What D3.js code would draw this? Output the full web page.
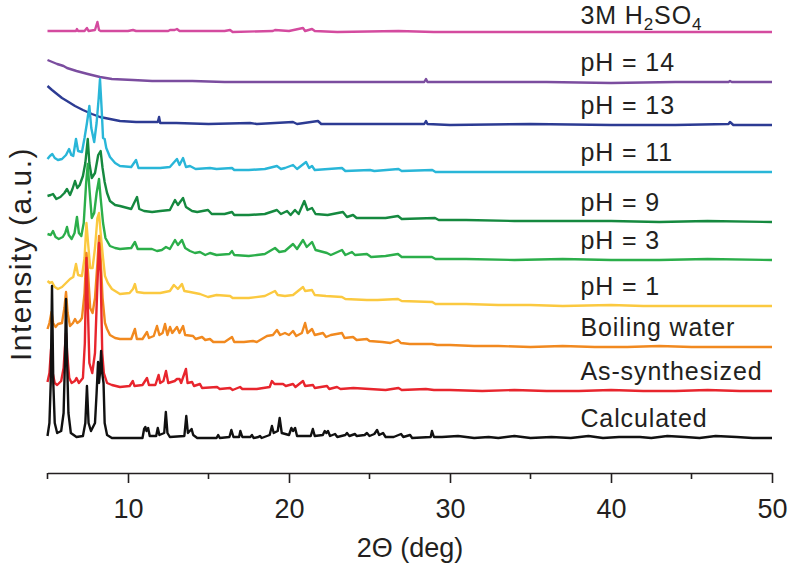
<!DOCTYPE html>
<html><head><meta charset="utf-8">
<script src="https://cdn.jsdelivr.net/npm/d3@7"></script>
<style>
html,body{margin:0;padding:0;background:#fff;}
svg{display:block;}
text{font-family:"Liberation Sans",Arial,Helvetica,sans-serif;fill:#231f20;}
</style></head>
<body><svg id="chart" width="788" height="569"></svg>
<script>
// ---- Data: [2θ (deg), intensity (a.u., stacked)] ----
const h2so4 = [[5.0,442],[6.5,442],[6.77,442],[6.83,444],[6.9,442],[7.3,442],[7.45,445],[7.55,442],[7.95,443],[8.1,451],[8.2,443],[8.3,442],[10.0,442],[10.31,443],[10.5,442],[12.5,442],[12.61,443],[12.9,443],[13.04,444],[13.2,442],[16.0,442],[16.34,443],[16.5,441],[19.0,442],[19.13,443],[20.0,442],[20.87,445],[21.0,442],[21.43,444],[21.6,442],[23,441],[26.8,442],[29,441],[33,441],[38,441],[43,441],[47,441],[50,441]];
const ph14 = [[5.0,413],[5.3,411],[5.6,409],[6.0,407],[6.21,405],[6.8,402],[7.5,399],[8.26,396],[9.0,394],[10.31,393],[11.5,392],[12.4,392],[14,392],[16,391],[20,391],[24,391],[28.4,391],[28.51,394],[28.6,391],[32,391],[36,391],[40,390],[44,391],[47.3,391],[47.39,392],[47.5,391],[50,391]];
const ph13 = [[5.0,387],[5.28,383],[5.59,379],[5.9,375],[6.21,372],[6.71,367],[7.2,363],[7.76,359],[8.26,356],[8.88,354],[9.5,352],[10.5,351],[11.5,351],[11.85,351],[11.93,356],[12.0,350],[13,350],[15,349],[17.58,350],[18,349],[20.25,351],[20.5,349],[21.8,352],[22,349],[25,349],[28.4,349],[28.51,352],[28.6,349],[30,348],[35,349],[40,348],[44,348],[47.3,349],[47.39,351],[47.6,348],[50,348]];
const ph11 = [[5.0,314],[5.15,317],[5.3,319],[5.45,315],[5.65,313],[5.9,314],[6.15,318],[6.34,324],[6.48,318],[6.6,317],[6.77,334],[6.9,322],[7.14,321],[7.3,335],[7.45,350],[7.6,367],[7.72,345],[7.9,331],[8.05,350],[8.18,375],[8.26,394],[8.36,365],[8.45,335],[8.55,334],[8.65,325],[8.88,316],[9.2,310],[9.5,307],[10.2,306],[10.5,313],[10.65,305],[11.2,305],[12.0,305],[12.6,306],[13.04,314],[13.2,308],[13.42,315],[13.6,306],[13.85,307],[14.2,304],[15.09,305],[15.5,304],[16.46,305],[16.6,303],[17.5,303],[18.5,304],[19.25,307],[19.5,304],[19.75,305],[20.25,308],[20.5,304],[21.06,311],[21.25,305],[21.43,307],[21.6,303],[23.29,305],[23.5,302],[25.03,303],[25.3,302],[26.8,304],[27.0,302],[28.9,303],[29.1,301],[32,301],[35,301],[38,301],[41,301],[44,301],[47,301],[50,301]];
const ph9 = [[5.0,277],[5.2,278],[5.34,279],[5.55,274],[5.8,276],[6.05,280],[6.21,284],[6.4,278],[6.55,284],[6.71,292],[6.85,285],[7.0,288],[7.2,297],[7.35,310],[7.5,334],[7.6,310],[7.75,295],[7.95,300],[8.15,318],[8.3,322],[8.42,305],[8.55,291],[8.7,280],[8.88,272],[9.2,268],[9.5,267],[10.2,264],[10.56,276],[10.7,264],[11.0,262],[11.5,261],[12.0,262],[12.6,263],[12.92,273],[13.1,268],[13.42,275],[13.6,266],[13.98,262],[14.3,261],[14.97,263],[15.2,259],[16.0,259],[16.46,261],[16.6,258],[17.5,258],[18.5,259],[19.25,263],[19.5,259],[19.88,262],[20.1,258],[20.37,263],[20.6,259],[20.95,272],[21.15,263],[21.43,265],[21.65,259],[22.4,258],[23.35,261],[23.6,256],[23.98,258],[24.2,255],[25.0,255],[26.0,255],[26.77,257],[27.0,254],[29.07,255],[29.3,253],[31,253],[34,252],[37,252],[40,252],[43,251],[46,252],[50,251]];
const ph3 = [[5.0,239],[5.2,238],[5.34,242],[5.5,236],[5.7,234],[5.95,236],[6.1,240],[6.21,246],[6.32,238],[6.5,234],[6.68,240],[6.83,256],[6.95,240],[7.1,237],[7.25,250],[7.4,290],[7.5,309],[7.6,285],[7.75,255],[7.9,260],[8.05,280],[8.2,294],[8.3,275],[8.45,250],[8.6,235],[8.88,227],[9.2,225],[9.5,224],[10.2,225],[10.43,231],[10.6,224],[11.2,224],[11.49,224],[11.8,222],[12.1,223],[12.36,226],[12.6,224],[12.92,233],[13.1,228],[13.35,233],[13.55,225],[13.85,222],[14.16,220],[14.47,221],[14.8,218],[15.09,220],[15.5,218],[16.3,219],[16.46,222],[16.6,218],[17.5,217],[18.01,218],[18.5,219],[19.13,225],[19.4,221],[19.75,222],[20.25,229],[20.5,224],[20.87,233],[21.1,226],[21.43,231],[21.65,223],[22.36,220],[22.6,218],[23.29,223],[23.5,218],[23.91,221],[24.1,218],[24.84,219],[25.1,216],[26.0,217],[26.77,219],[27.0,216],[28.88,216],[29.1,214],[31,214],[34,213],[37,214],[40,213],[43,213],[46,214],[50,213]];
const ph1 = [[5.0,192],[5.15,190],[5.28,191],[5.45,186],[5.65,184],[5.9,186],[6.15,190],[6.4,194],[6.6,196],[6.77,209],[6.9,198],[7.14,197],[7.3,215],[7.42,250],[7.52,230],[7.65,205],[7.8,205],[7.95,225],[8.1,255],[8.2,260],[8.3,240],[8.45,215],[8.57,197],[8.75,190],[9.0,184],[9.5,179],[10.1,180],[10.31,184],[10.43,189],[10.55,181],[11.0,180],[11.5,180],[12.0,180],[12.6,182],[12.85,188],[13.1,184],[13.35,189],[13.5,182],[13.85,181],[14.47,179],[14.97,176],[15.5,178],[16.34,177],[16.5,175],[17.5,175],[18.5,177],[19.13,182],[19.3,178],[19.75,177],[20.25,178],[20.87,186],[21.0,182],[21.43,183],[21.6,178],[22.3,177],[23.29,176],[23.5,174],[24.84,173],[25.5,173],[26.77,174],[27.0,172],[28.9,171],[29.1,169],[31,169],[33,168],[35,168],[37,167],[40,168],[42,167],[45,167],[48,167],[50,167]];
const boiling = [[5.0,144],[5.12,150],[5.25,161],[5.35,150],[5.5,146],[5.65,149],[5.9,150],[6.05,165],[6.15,181],[6.25,160],[6.4,147],[6.58,150],[6.71,154],[6.85,150],[7.02,152],[7.14,155],[7.3,180],[7.42,220],[7.52,200],[7.65,165],[7.8,160],[7.95,175],[8.1,210],[8.2,237],[8.3,215],[8.42,175],[8.57,150],[8.7,144],[8.88,138],[9.2,135],[9.5,134],[10.2,134],[10.43,144],[10.55,134],[10.9,134],[11.18,141],[11.3,135],[11.6,137],[11.8,147],[11.95,138],[12.15,140],[12.3,149],[12.45,138],[12.61,146],[12.75,140],[13.04,146],[13.2,140],[13.42,147],[13.55,138],[14.04,137],[14.2,134],[14.6,136],[14.8,133],[15.09,134],[15.3,131],[16.0,131],[16.46,136],[16.6,131],[17.2,131],[17.76,132],[18.0,131],[18.63,137],[19.0,138],[19.25,143],[19.45,138],[19.75,140],[20.0,138],[20.25,142],[20.45,137],[20.8,140],[21.0,150],[21.15,140],[21.43,144],[21.6,138],[22.11,140],[22.3,136],[22.6,138],[23.29,140],[23.45,135],[23.98,136],[24.2,133],[24.84,134],[25.0,132],[25.8,131],[26.3,130],[26.77,133],[26.95,130],[27.5,129],[28.88,129],[29.2,128],[30.0,128],[31.5,127],[33,127],[35,126],[37,127],[39,126],[41,126],[43,127],[45,126],[47,126],[50,126]];
const asSynthesized = [[5.0,91],[5.12,100],[5.22,124],[5.32,100],[5.45,90],[5.6,88],[5.85,92],[6.0,105],[6.08,125],[6.15,140],[6.22,120],[6.35,95],[6.5,90],[6.7,92],[6.8,95],[6.95,90],[7.2,95],[7.32,130],[7.42,215],[7.5,170],[7.6,110],[7.78,100],[7.95,120],[8.08,180],[8.2,230],[8.3,200],[8.4,120],[8.5,100],[8.7,90],[9.0,88],[9.5,86],[10.1,87],[10.3,92],[10.4,87],[10.9,88],[11.18,95],[11.3,88],[11.7,88],[11.9,98],[12.0,90],[12.2,92],[12.36,102],[12.5,90],[12.9,92],[13.04,94],[13.2,94],[13.3,90],[13.6,104],[13.7,90],[13.98,91],[14.1,87],[14.47,89],[14.6,85],[15.53,86],[15.7,84],[16.34,85],[16.5,83],[16.96,86],[17.1,84],[18.0,84],[18.8,86],[18.94,92],[19.1,89],[19.63,89],[19.8,87],[20.25,89],[20.4,86],[20.87,92],[21.0,87],[21.49,88],[21.6,85],[22.36,87],[22.5,84],[22.98,86],[23.2,84],[24.0,85],[25.0,84],[26.0,83],[26.8,85],[27.0,83],[28.5,84],[29.0,83],[30.0,83],[32,82],[34,83],[36,82],[38,82],[40,83],[42,82],[44,82],[46,83],[48,82],[50,82]];
const calculated = [[5.0,37],[5.12,50],[5.2,90],[5.28,187],[5.36,90],[5.45,50],[5.6,40],[5.85,42],[6.0,60],[6.08,110],[6.15,174],[6.22,110],[6.3,60],[6.45,40],[6.8,36],[7.2,37],[7.35,50],[7.45,87],[7.55,50],[7.7,42],[7.95,50],[8.05,80],[8.14,111],[8.2,90],[8.26,100],[8.33,122],[8.4,100],[8.48,90],[8.55,50],[8.7,38],[9.0,35],[10.0,35],[10.9,35],[11.0,44],[11.08,46],[11.15,42],[11.25,45],[11.35,37],[11.75,37],[11.85,45],[11.95,38],[12.25,40],[12.35,61],[12.45,40],[12.6,36],[13.5,37],[13.62,57],[13.72,40],[13.95,44],[14.05,38],[14.3,35],[15.5,35],[15.6,38],[15.7,35],[16.3,36],[16.42,43],[16.55,36],[16.9,36],[16.98,42],[17.1,36],[17.6,36],[17.7,38],[17.8,35],[18.1,36],[18.2,37],[18.3,35],[18.8,38],[18.94,47],[19.05,40],[19.3,42],[19.42,55],[19.55,40],[20.0,38],[20.15,45],[20.25,42],[20.38,45],[20.5,37],[21.35,37],[21.48,44],[21.6,37],[22.1,38],[22.22,42],[22.32,40],[22.42,42],[22.55,37],[22.86,39],[23.0,36],[23.5,38],[23.6,40],[23.75,37],[24.1,39],[24.2,37],[24.7,38],[24.84,40],[25.0,37],[25.3,39],[25.47,43],[25.6,38],[25.84,40],[26.0,36],[26.5,36],[26.96,39],[27.1,36],[27.52,38],[27.65,35],[28.8,36],[28.88,42],[29.0,36],[29.5,36],[30.5,37],[31.5,35],[32.4,36],[33.0,35],[34.0,37],[35.0,35],[36.3,36],[37.5,35],[38.6,37],[39.5,35],[40.5,36],[41.8,36],[42.5,35],[43.5,37],[44.6,36],[45.5,35],[46.5,37],[47.8,36],[48.8,35],[50,35]];

// series labels (top to bottom) and tick values
const seriesNames = ["3M H2SO4","pH = 14","pH = 13","pH = 11","pH = 9","pH = 3","pH = 1","Boiling water","As-synthesized","Calculated"];
const seriesData = [h2so4, ph14, ph13, ph11, ph9, ph3, ph1, boiling, asSynthesized, calculated];
const seriesColors = ["#d44b9f","#7b4d9f","#2c3b93","#29b6d8","#15893f","#2bae4a","#fbc940","#f1891f","#e8252d","#111111"];
const majorTicks = [10, 20, 30, 40, 50];
const minorTicks = [5, 15, 25, 35, 45];
const xLabel = "2Θ (deg)";
const yLabel = "Intensity (a.u.)";

// ---- Layout ----
const svg = d3.select("#chart");
const x = d3.scaleLinear().domain([5, 50]).range([47.5, 772]);
const y = d3.scaleLinear().domain([0, 473]).range([473, 0]);

const line = d3.line().x(d => x(d[0])).y(d => y(d[1])).curve(d3.curveLinear);

const g = svg.append("g");
seriesData.forEach((s, i) => {
  g.append("path").datum(s)
    .attr("d", line)
    .attr("fill", "none")
    .attr("stroke", seriesColors[i])
    .attr("stroke-width", 2.4)
    .attr("stroke-linejoin", "round");
});

// labels
seriesData.forEach((s, i) => {
  const last = s[s.length - 1];
  const t = svg.append("text")
    .attr("x", x(38.1))
    .attr("y", y(last[1]) - (i === 0 ? 8 : 11))
    .attr("font-size", 25)
    .attr("letter-spacing", "0.9px");
  const name = seriesNames[i];
  if (name === "3M H2SO4") {
    t.append("tspan").text("3M H");
    t.append("tspan").attr("font-size", 17).attr("dy", 6).text("2");
    t.append("tspan").attr("dy", -6).text("SO");
    t.append("tspan").attr("font-size", 17).attr("dy", 6).text("4");
  } else {
    t.text(name);
  }
});

// x axis
const axisG = svg.append("g").attr("transform", "translate(0,473)");
axisG.call(d3.axisBottom(x).tickValues(majorTicks).tickSize(10).tickSizeOuter(0).tickFormat(d3.format("d")));
axisG.select(".domain").attr("stroke", "#231f20").attr("stroke-width", 1.6);
axisG.selectAll(".tick line").attr("stroke", "#231f20").attr("stroke-width", 1.6);
axisG.selectAll(".tick text").attr("font-size", 27).attr("font-family", "Liberation Sans, Arial, sans-serif").attr("fill", "#231f20").attr("y", 26).attr("dy", "0.71em");
axisG.selectAll(".minor").data(minorTicks).enter().append("line")
  .attr("class", "minor")
  .attr("x1", d => x(d)).attr("x2", d => x(d))
  .attr("y1", 0).attr("y2", 6)
  .attr("stroke", "#231f20").attr("stroke-width", 1.6);

// axis titles
svg.append("text")
  .attr("x", 410).attr("y", 557)
  .attr("text-anchor", "middle")
  .attr("font-size", 27)
  .text(xLabel);
svg.append("text")
  .attr("transform", "translate(31,254) rotate(-90)")
  .attr("text-anchor", "middle")
  .attr("font-size", 30)
  .attr("letter-spacing", "1.5px")
  .text(yLabel);
</script>
</body></html>
